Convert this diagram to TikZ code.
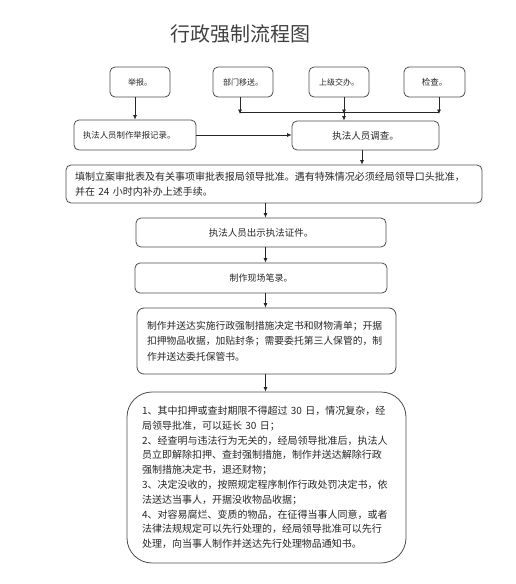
\documentclass[tikz,border=0pt]{standalone}
\usepackage{fontspec}
\setmainfont{Noto Sans CJK SC}
\usetikzlibrary{arrows.meta}
\begin{document}
\begin{tikzpicture}[x=1pt,y=-1pt,
  box/.style={draw=black!70, line width=0.8pt, rounded corners=5pt, inner sep=0pt, align=center, text=black!85},
  arr/.style={draw=black!85, line width=0.7pt, -{Latex[length=4.5pt,width=4pt]}},
  ln/.style={draw=black!85, line width=0.7pt}]
\useasboundingbox (0,0) rectangle (515,584);
\node[font=\fontsize{20}{24}\selectfont, text=black!75] (title) at (240,34) {行政强制流程图};
% top row
\node[box, minimum width=60pt, minimum height=30pt, font=\fontsize{8}{10}\selectfont] (jubao) at (140,82) {举报。};
\node[box, minimum width=60pt, minimum height=30pt, font=\fontsize{8}{10}\selectfont] (bumen) at (243,82) {部门移送。};
\node[box, minimum width=60pt, minimum height=30pt, font=\fontsize{8}{10}\selectfont] (shangji) at (339,82) {上级交办。};
\node[box, minimum width=61pt, minimum height=30pt, font=\fontsize{8.5}{10}\selectfont] (jiancha) at (434.5,82) {检查。};
% second row
\node[box, minimum width=122pt, minimum height=30pt, text width=104pt, inner xsep=9pt, align=left, font=\fontsize{8.4}{10}\selectfont] (rec) at (135,135) {执法人员制作举报记录。};
\node[box, minimum width=147pt, minimum height=29pt, font=\fontsize{9.5}{11}\selectfont] (diaocha) at (365.5,135.5) {执法人员调查。};
% approval box
\node[box, minimum width=416pt, minimum height=38pt, text width=398pt, inner xsep=9pt, align=left, font=\fontsize{10}{15}\selectfont] (lian) at (274,184) {填制立案审批表及有关事项审批表报局领导批准。遇有特殊情况必须经局领导口头批准，\\并在 24 小时内补办上述手续。};
\node[box, minimum width=250pt, minimum height=29pt, font=\fontsize{9.5}{11}\selectfont] (chushi) at (261,232.5) {执法人员出示执法证件。};
\node[box, minimum width=252pt, minimum height=30pt, font=\fontsize{9}{11}\selectfont] (xianchang) at (261,278) {制作现场笔录。};
\node[box, rounded corners=7pt, minimum width=259pt, minimum height=66pt, text width=239pt, inner xsep=10pt, align=left, font=\fontsize{9.8}{15.5}\selectfont] (cuoshi) at (266.5,341) {制作并送达实施行政强制措施决定书和财物清单；开据\\扣押物品收据，加贴封条；需要委托第三人保管的，制\\作并送达委托保管书。};
\node[box, rounded corners=25pt, minimum width=279pt, minimum height=171pt, text width=249pt, inner xsep=15pt, align=left, font=\fontsize{10}{14.8}\selectfont] (chuli) at (266.5,477.5) {1、其中扣押或查封期限不得超过 30 日，情况复杂，经\\局领导批准，可以延长 30 日；\\2、经查明与违法行为无关的，经局领导批准后，执法人\\员立即解除扣押、查封强制措施，制作并送达解除行政\\强制措施决定书，退还财物；\\3、决定没收的，按照规定程序制作行政处罚决定书，依\\法送达当事人，开据没收物品收据；\\4、对容易腐烂、变质的物品，在征得当事人同意，或者\\法律法规规定可以先行处理的，经局领导批准可以先行\\处理，向当事人制作并送达先行处理物品通知书。};
% bus coordinates
\coordinate (b1) at (240,112);
\coordinate (b2) at (344,112);
\coordinate (b3) at (439,112);
\coordinate (m) at (265.5,0);
% connectors
\draw[arr] (jubao.south -| rec.north) -- (rec.north);
\draw[arr] (bumen.south -| b1) -- ([yshift=-2pt]b1);
\draw[arr] (shangji.south -| b2) -- ([yshift=-2pt]b2);
\draw[arr] (jiancha.south -| b3) -- ([yshift=-2pt]b3);
\draw[ln] (b1) -- (b3);
\draw[arr] (b2) -- (b2 |- diaocha.north);
\draw[arr] (rec.east) -- (rec.east -| diaocha.west);
\draw[arr] ([xshift=-3.5pt]diaocha.south) -- ([xshift=-3.5pt]diaocha.south |- lian.north);
\draw[arr] (lian.south -| m) -- (chushi.north -| m);
\draw[arr] (chushi.south -| m) -- (xianchang.north -| m);
\draw[arr] (xianchang.south -| m) -- (cuoshi.north -| m);
\draw[arr] (cuoshi.south -| m) -- (chuli.north -| m);
\end{tikzpicture}
\end{document}
